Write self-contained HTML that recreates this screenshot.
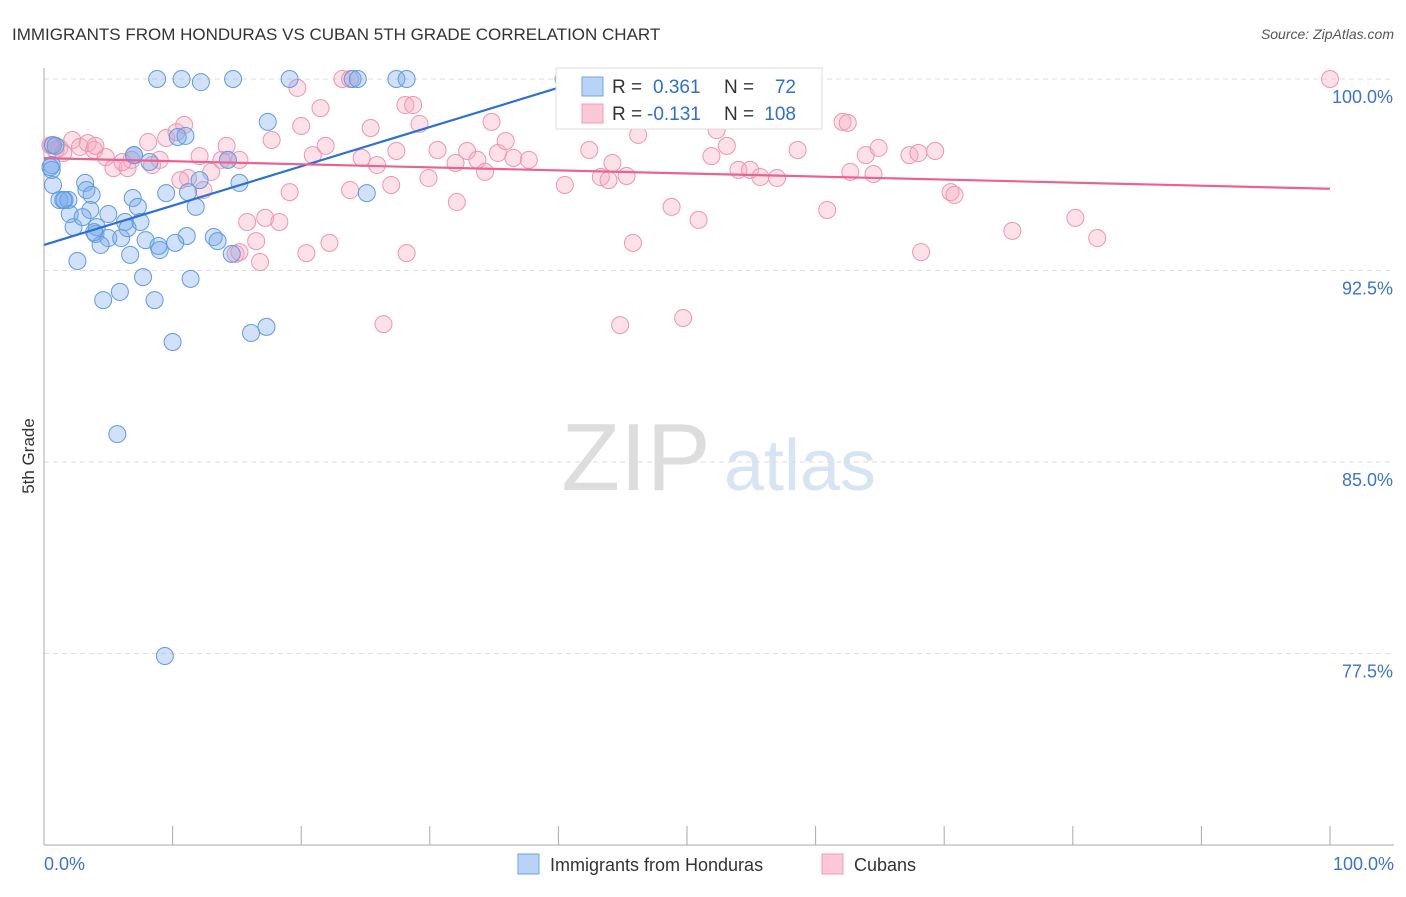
<!DOCTYPE html>
<html><head><meta charset="utf-8"><style>
body{margin:0;background:#fff;font-family:"Liberation Sans",sans-serif;}
svg text{font-family:"Liberation Sans",sans-serif;}
</style></head><body>
<svg id="c" width="1406" height="892">
<text x="12" y="40" font-size="17" fill="#333">IMMIGRANTS FROM HONDURAS VS CUBAN 5TH GRADE CORRELATION CHART</text>
<text x="1394" y="39" font-size="14" fill="#555" font-style="italic" text-anchor="end">Source: ZipAtlas.com</text>
<text x="34" y="456" font-size="17" fill="#333" transform="rotate(-90 34 456)" text-anchor="middle">5th Grade</text>
<g><text x="636" y="490" font-size="96" font-family="Liberation Serif" fill="#ddd" text-anchor="middle">ZIP</text><text x="800" y="490" font-size="72" fill="#d6e4f4" text-anchor="middle">atlas</text></g>
<g id="grid"></g><g id="axes"></g><g id="pts"></g><g id="lines"></g>
<g>
<rect x="556" y="68" width="266" height="61" fill="#fff" stroke="#ddd"/>
<rect x="582" y="77" width="21" height="19" fill="#b8d3f5" stroke="#6fa3e6"/>
<rect x="582" y="104" width="21" height="19" fill="#fcc8d8" stroke="#f09ab4"/>
<text x="612" y="93" font-size="19" fill="#333">R =</text><text x="653" y="93" font-size="19" fill="#2f6fd0">0.361</text>
<text x="724" y="93" font-size="19" fill="#333">N =</text><text x="796" y="93" font-size="19" fill="#2f6fd0" text-anchor="end">72</text>
<text x="612" y="120" font-size="19" fill="#333">R =</text><text x="647" y="120" font-size="19" fill="#2f6fd0">-0.131</text>
<text x="724" y="120" font-size="19" fill="#333">N =</text><text x="796" y="120" font-size="19" fill="#2f6fd0" text-anchor="end">108</text>
</g>
<g>
<rect x="518" y="854" width="21" height="20" fill="#b8d3f5" stroke="#6fa3e6"/>
<text x="550" y="871" font-size="18" fill="#333">Immigrants from Honduras</text>
<rect x="822" y="854" width="21" height="20" fill="#fcc8d8" stroke="#f09ab4"/>
<text x="854" y="871" font-size="18" fill="#333">Cubans</text>
</g>
</svg>
<script>
const yTicks=[100,92.5,85,77.5];
const yTickLabels=["100.0%","92.5%","85.0%","77.5%"];
const xTickLabels=["0.0%","100.0%"];
const blueX=[8.8,10.7,12.2,14.7,19.1,24.0,24.4,27.4,28.2,40.4,17.4,10.4,0.7,0.6,0.7,1.2,1.6,1.9,3.2,3.3,3.7,3.6,2.0,2.3,3.0,4.1,5.0,4.0,5.0,4.4,6.0,6.3,6.5,6.7,6.9,7.3,7.0,7.5,7.9,9.0,8.9,7.7,4.6,5.9,8.6,9.5,11.8,11.2,11.1,10.2,13.2,13.5,11.4,14.6,14.3,15.2,25.1,10.0,16.1,17.3,5.7,9.4,2.6,0.6,0.9,8.2,12.1,7.0,11.0,1.5,0.5,3.9];
const blueY=[100,100,99.88,100,100,100,100,100,100,100,98.32,97.73,97.41,96.63,95.85,95.26,95.26,95.26,95.93,95.65,95.46,94.87,94.71,94.2,94.59,94.2,94.71,93.93,93.77,93.5,93.77,94.4,94.16,93.11,95.34,94.99,97.02,94.4,93.69,93.3,93.46,92.24,91.34,91.66,91.34,95.53,94.99,95.57,93.85,93.58,93.81,93.65,92.17,93.15,96.83,95.93,95.53,89.7,90.05,90.29,86.09,77.4,92.87,96.44,97.38,96.75,96.04,97.02,97.77,95.26,96.55,94.0];
const pinkX=[0.6,0.9,1.2,2.2,2.8,3.4,3.9,4.8,5.4,6.5,6.8,8.1,8.4,9.0,9.5,10.3,10.9,11.2,12.1,12.4,13.0,13.8,14.2,14.3,15.2,15.8,16.5,16.8,17.2,17.7,18.3,19.1,19.7,20.0,20.4,20.9,21.5,21.9,22.2,23.2,23.8,23.8,24.7,25.4,25.9,26.4,27.0,27.4,28.1,28.7,28.2,29.2,29.9,30.6,32.0,32.1,32.9,33.7,34.3,34.8,35.3,35.9,36.5,37.7,40.5,42.4,43.3,43.9,44.2,44.8,45.3,45.8,46.2,48.8,49.7,50.9,51.9,52.3,53.1,54.0,54.9,55.7,57.0,58.6,60.9,62.1,62.5,62.7,63.9,64.5,64.9,67.3,68.0,68.2,69.3,70.5,70.8,75.3,80.2,81.9,100,14.9,10.6,15.2,4.0,6.1,0.5,1.5];
const pinkY=[97.41,97.22,97.3,97.61,97.34,97.49,97.22,96.94,96.51,96.51,96.83,97.53,96.63,96.83,97.69,97.92,98.2,96.12,96.98,95.65,96.36,96.83,97.38,96.83,96.83,94.4,93.65,92.83,94.56,97.61,94.4,95.57,99.65,98.16,93.18,97.02,98.86,97.38,93.58,100,100,95.65,96.91,98.08,96.63,90.4,95.85,97.18,98.98,98.98,93.18,98.24,96.12,97.22,96.71,95.18,97.18,96.83,96.36,98.32,97.1,97.57,96.91,96.83,95.85,97.22,96.16,96.04,96.71,90.36,96.2,93.58,97.81,94.99,90.64,94.48,96.98,98.0,97.38,96.44,96.44,96.16,96.12,97.22,94.87,98.32,98.28,96.36,97.02,96.28,97.3,97.02,97.1,93.22,97.18,95.57,95.46,94.05,94.56,93.77,100,93.15,96.04,93.22,97.38,96.75,97.4,97.1];
const blueLine=[[0,93.5],[43.2,100.15]];
const pinkLine=[[0,96.9],[100,95.7]];
const NS="http://www.w3.org/2000/svg";
const X=v=>44+v*12.86, Y=v=>79+(100-v)*25.53;
function mk(p,t,a){const e=document.createElementNS(NS,t);for(const k in a)e.setAttribute(k,a[k]);p.appendChild(e);return e;}
const grid=document.getElementById('grid'),axes=document.getElementById('axes'),pts=document.getElementById('pts'),lines=document.getElementById('lines');
yTicks.forEach((t,i)=>{
 const l=mk(grid,'line',{x1:44,x2:1394,y1:Y(t),y2:Y(t),stroke:'#ddd','stroke-dasharray':'5,4'});
 
 
 const tx=mk(grid,'text',{x:1393,y:Y(t)+24,'font-size':18,fill:'#3a74d0','text-anchor':'end'});
 tx.textContent=yTickLabels[i];
 
 
});
mk(axes,'line',{x1:44,x2:44,y1:68,y2:845,stroke:'#aaa'});
mk(axes,'line',{x1:44,x2:1394,y1:845,y2:845,stroke:'#aaa'});
for(let i=0;i<=10;i++){const t=mk(axes,'line',{x1:X(i*10),x2:X(i*10),y1:826,y2:845,stroke:'#aaa'});
 
 }
[[0,'start',44],[100,'end',1394]].forEach((d,i)=>{const t=mk(axes,'text',{x:d[2],y:870,'font-size':18,fill:'#3a74d0','text-anchor':d[1]});t.textContent=xTickLabels[i];
 
 });
pinkX.forEach((x,i)=>{const c=mk(pts,'circle',{cx:X(x),cy:Y(pinkY[i]),r:8.5,fill:'rgba(246,168,192,0.35)',stroke:'#ef94b0','stroke-width':1});
 
 });
blueX.forEach((x,i)=>{const c=mk(pts,'circle',{cx:X(x),cy:Y(blueY[i]),r:8.5,fill:'rgba(120,170,235,0.35)',stroke:'#5f9be2','stroke-width':1});
 
 });
const bl=mk(lines,'line',{x1:X(blueLine[0][0]),y1:Y(blueLine[0][1]),x2:X(blueLine[1][0]),y2:Y(blueLine[1][1]),stroke:'#2b6fd8','stroke-width':2.2});


const pl=mk(lines,'line',{x1:X(pinkLine[0][0]),y1:Y(pinkLine[0][1]),x2:X(pinkLine[1][0]),y2:Y(pinkLine[1][1]),stroke:'#e8638f','stroke-width':2.2});


</script>
</body></html>
